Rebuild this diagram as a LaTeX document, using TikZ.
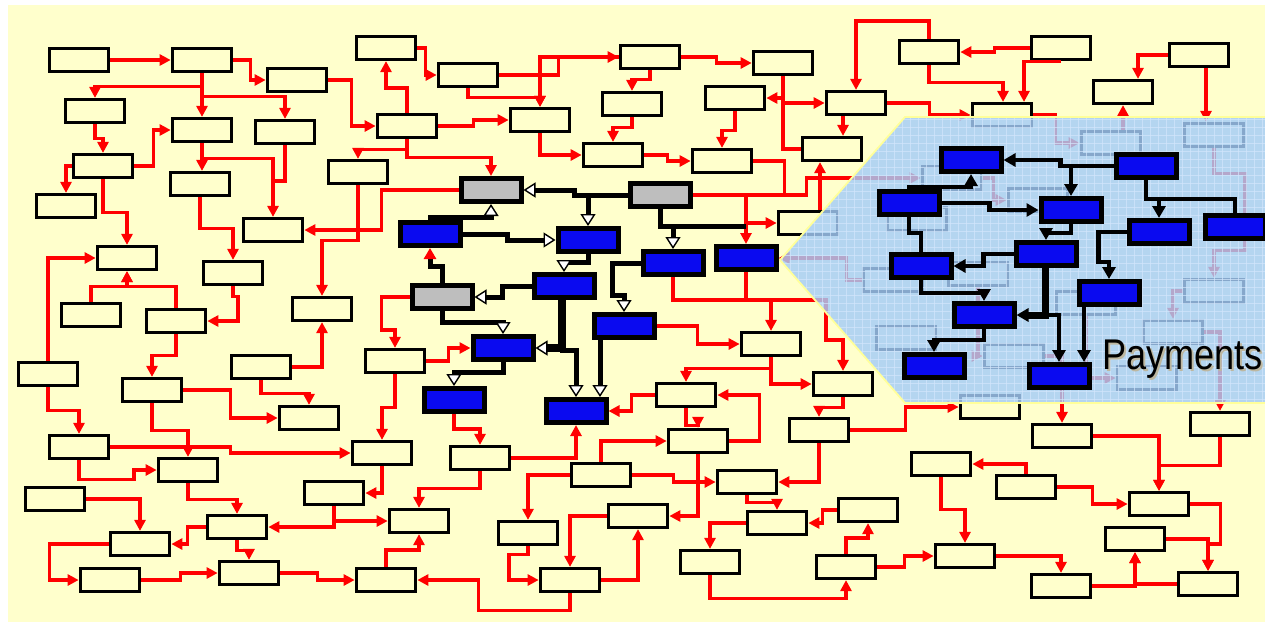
\documentclass[tikz,border=0pt]{standalone}
\usepackage{fontspec}
\usepackage{tikz}
\usetikzlibrary{arrows.meta,calc}
\newfontfamily\payfont{Liberation Sans}
\definecolor{Paper}{HTML}{FFFFCC}
\definecolor{Wire}{HTML}{FF0000}
\definecolor{Deep}{HTML}{0A0AF0}
\definecolor{Slate}{HTML}{BEBEBE}
\definecolor{Sky}{HTML}{A4CCF8}
\definecolor{Mesh}{HTML}{D2E6FC}
\definecolor{Rim}{HTML}{FFFF99}
\definecolor{Shade}{HTML}{BDB7A0}
\tikzset{
  flow/.style={draw=black,line width=3.2pt,fill=Paper,minimum width=59.5pt,minimum height=23pt,inner sep=0pt},
  deep/.style={draw=black,line width=5pt,fill=Deep,minimum width=60pt,minimum height=23pt,inner sep=0pt},
  slate/.style={deep,fill=Slate},
  wire/.style={draw=Wire,line width=3.2pt,-{Triangle[length=11pt,width=11pt]}},
  bare/.style={draw=Wire,line width=3.2pt},
  link/.style={draw=black,line width=5pt,-{Triangle[length=12pt,width=15pt,fill=white,line width=1.4pt]}},
  flat/.style={draw=black,line width=5pt},
  pay/.style={draw=black,line width=4.6pt,-{Triangle[length=12pt,width=13pt]}},
  payflat/.style={draw=black,line width=4.6pt},
}

\begin{document}
\begin{tikzpicture}[x=1pt,y=-1pt]
\useasboundingbox (0,0) rectangle (1265,622);
\fill[white] (0,0) rectangle (1265,622);
\fill[Paper] (8,5) rectangle (1265,622);

\foreach \n/\x/\y in {b1/79/60,b2/202/60,b3/297/80,b4/95/111,b5/202/130,b6/285/132,
  b7/386/48,b8/407/126,b9/103/166,b10/200/184,b11/66/206,b12/358/172,b13/273/230,
  b14/127/258,b15/233/273,b16/322/309,b17/91/315,b18/176/321,b19/48/374,b20/152/390,
  b21/261/367,b22/309/418,b23/395/361,b24/79/447,b25/188/470,b26/382/453,b27/55/499,
  b28/334/493,b29/237/527,b30/140/544,b31/419/521,b32/110/580,b33/249/573,b34/386/580,
  b35/468/75,b36/650/57,b37/783/63,b38/632/104,b39/735/98,b40/856/103,b41/540/120,
  b42/613/155,b43/722/161,b44/832/149,b45/929/52,b46/1061/48,b47/1199/55,b48/1123/92,
  b49/1002/115,b50/808/223,b51/843/384,b52/771/344,b54/686/395,b55/698/441,b56/819/430,
  b57/480/458,b58/601/475,b59/747/482,b61/638/516,b62/528/533,b63/777/523,b64/868/510,
  b65/710/562,b66/846/567,b67/570/580,b68/990/407,b69/1062/436,b70/1220/424,b71/941/464,
  b72/1026/487,b73/1159/504,b74/1135/539,b75/965/556,b76/1061/586,b77/1208/584,
  u1/1111/143,u2/1214/135,u3/952/178,u4/1038/200,u5/917/219,u6/893/280,u7/978/274,
  u8/906/338,u9/1014/356,u10/1086/303,u11/1214/291,u12/1173/332,u13/1147/378} {
  \node[flow] (\n) at (\x,\y) {};
}
\node[slate] (g1) at (491,190) {};
\node[slate] (g2) at (660,195) {};
\node[slate] (g3) at (442,297) {};
\foreach \n/\x/\y in {k1/430/234,k2/588/240,k3/673/263,k4/746/258,k5/564/286,k6/624/326,
  k7/503/348,k8/454/400,k9/576/411} {
  \node[deep] (\n) at (\x,\y) {};
}

\draw[wire] (b1.east) -- (b2.west);
\draw[wire] (b2.east) -- ++(17,0) |- (b3.west);
\draw[wire] (b2.south) -- (b5.north);
\draw[wire] (b2.south) -- ++(0,13) -| (b4.north);
\draw[wire] (b2.south) -- ++(0,23) -| (b6.north);
\draw[wire] (b3.east) -- ++(23,0) |- (b8.west);
\draw[wire] (b4.south) -- ++(0,14) -| (b9.north);
\draw[wire] (b9.east) -- ++(19,0) |- (b5.west);
\draw[wire] (b9.west) -| (b11.north);
\draw[wire] (b9.south) -- ++(0,33) -| (b14.north);
\draw[wire] (b5.south) -- (b5.south |- b10.north);
\draw[wire] (b5.south) -- ++(0,15) -| (b13.north);
\draw[bare] (b6.south) |- (b13.north |- 0,181);
\draw[wire] (b10.south) -- ++(0,31) -| (b15.north);
\draw[wire] (b8.north) -- ++(0,-25) -| (b7.south);
\draw[wire] (b8.south) -- ++(0,10) -| (b12.north);
\draw[wire] (b8.south) -- ++(0,18) -| (g1.north);
\draw[wire] (b12.south) -- ++(0,55) -| (b16.north);
\draw[wire] (b19.north) |- (b14.west);
\draw[wire] (b17.north) |- ($(b14.south)+(0,15)$) -- (b14.south);
\draw[wire] (b18.north) |- ($(b14.south)+(0,15)$) -- (b14.south);
\draw[wire] (b15.south) -- ++(0,10) -- ++(5,0) |- (b18.east);
\draw[wire] (b19.south) -- ++(0,23) -| (b24.north);
\draw[wire] (b18.south) -- ++(0,21) -| (b20.north);
\draw[wire] (b21.east) -| (b16.south);
\draw[wire] (b21.south) -- ++(0,13) -| (b22.north);
\draw[wire] (b20.east) -- ++(47,0) |- (b22.west);
\draw[wire] (b20.south) -- ++(0,27) -| (b25.north);
\draw[wire] (b24.east) -- ++(120,0) |- (b26.west);
\draw[wire] (b24.south) -- ++(0,19) -- ++(55,0) |- (b25.west);
\draw[wire] (b23.south) -- ++(0,33) -| (b26.north);
\draw[wire] (b26.south) |- (b28.east);
\draw[wire] (b27.east) -| (b30.north);
\draw[wire] (b25.south) -- ++(0,16) -| (b29.north);
\draw[wire] (b28.south) |- (b29.east);
\draw[wire] (b28.south) |- (b31.west);
\draw[wire] (b29.west) -- ++(-18,0) |- (b30.east);
\draw[wire] (b29.south) -- ++(0,10) -| (b33.north);
\draw[wire] (b30.west) -- ++(-59,0) |- (b32.west);
\draw[wire] (b32.east) -- ++(39,0) |- (b33.west);
\draw[wire] (b33.east) -- ++(37,0) |- (b34.west);
\draw[wire] (b34.north) -- ++(0,-17) -| (b31.south);
\draw[wire] (b67.south) -- ++(0,17) -| ($(b34.east)+(61,0)$) -- (b34.east);
\draw[wire] (b57.south) -- ++(0,17) -| (b31.north);
\draw[wire] (b58.north) |- (b55.west);
\draw[wire] (b58.east) -- ++(41,0) |- (b59.west);
\draw[wire] (b58.west) -| (b62.north);
\draw[wire] (b55.south) |- (b61.east);
\draw[wire] (b55.east) -- ++(30,0) |- (b54.east);
\draw[wire] (b54.south) -- ++(0,17) -| (b55.north);
\draw[wire] (b52.south) -- ++(0,11) -| (b54.north);
\draw[wire] (b52.south) |- (b51.west);
\draw[wire] (b51.south) -- ++(0,10) -| (b56.north);
\draw[wire] (b56.south) |- (b59.east);
\draw[wire] (b59.south) -- ++(0,7) -| (b63.north);
\draw[wire] (b64.west) -- ++(-14,0) |- (b63.east);
\draw[wire] (b63.west) -| (b65.north);
\draw[wire] (b65.south) -- ++(0,23) -| (b66.south);
\draw[wire] (b66.north) -- ++(0,-16) -| (b64.south);
\draw[wire] (b61.west) -| (b67.north);
\draw[wire] (b67.east) -| (b61.south);
\draw[wire] (b62.south) -- ++(0,8) -- ++(-19,0) |- (b67.west);
\draw[wire] (b66.east) -- ++(27,0) |- (b75.west);
\draw[wire] (b56.east) -- ++(55,0) |- (b68.west);
\draw[wire] (b69.east) -| (b73.north);
\draw[wire] (b70.south) -- ++(0,28) -| (b73.north);
\draw[wire] (b71.south) -- ++(0,32) -| (b75.north);
\draw[wire] (b72.north) |- (b71.east);
\draw[wire] (b72.east) -- ++(35,0) |- (b73.west);
\draw[wire] (b73.east) -- ++(30,0) -- ++(0,40) -| (b77.north);
\draw[wire] (b74.east) -| (b77.north);
\draw[wire] (b75.east) -| (b76.north);
\draw[wire] (b76.east) -| (b74.south);
\draw[wire] (b77.west) -| (b74.south);
\draw[wire] (b7.east) -- ++(8,0) |- (b35.west);
\draw[wire] (b35.east) -- ++(59,0) |- (b36.west);
\draw[wire] (b35.south) -- ++(0,9) -| (b41.north);
\draw[wire] (b36.west) -| (b41.north);
\draw[wire] (b8.east) -- ++(35,0) |- (b41.west);
\draw[wire] (b41.south) |- (b42.west);
\draw[wire] (b36.south) -- ++(0,9) -| (b38.north);
\draw[wire] (b36.east) -- ++(35,0) |- (b37.west);
\draw[wire] (b38.south) -- ++(0,10) -| (b42.north);
\draw[wire] (b42.east) -- ++(23,0) |- (b43.west);
\draw[wire] (b39.south) -- ++(0,19) -| (b43.north);
\draw[wire] (b37.south) |- (b39.east);
\draw[wire] (b37.south) |- (b40.west);
\draw[bare] (b37.south) |- (b44.west);
\draw[bare] (b43.east) -- ++(31,0) -- ++(0,34);
\draw[wire] ($(b40.south)+(-13,0)$) -- ($(b44.north)+(11,0)$);
\draw[wire] ($(b50.north)+(12,0)$) -- ($(b44.south)+(-12,0)$);
\draw[wire] (b45.north) -- ++(0,-18) -| (b40.north);
\draw[wire] (b46.west) -- ++(-35,0) |- (b45.east);
\draw[wire] (b45.south) -- ++(0,17) -| ($(b49.north)+(1,0)$);
\draw[wire] (b46.south) -| ($(b49.north)+(22,0)$);
\draw[wire] (b47.west) -| ($(b48.north)+(15,0)$);
\draw[wire] ($(b47.south)+(7,0)$) -- ($(u2.north)+(-8,0)$);
\draw[wire] ($(u1.north)+(12,0)$) -- (b48.south);
\draw[wire] (b40.east) -- ++(42,0) |- (b49.west);
\draw[wire] (b49.east) -- ++(22,0) |- (u1.west);
\draw[wire] (g2.east) -- ++(114,0) |- (u3.west);
\draw[wire] (g2.east -| k4.north) -- (k4.north);
\draw[wire] (k4.north |- b50.west) -- (b50.west);
\draw[wire] (k3.south) -- ++(0,23) -| (b52.north);
\draw[bare] (k4.south) -- ++(0,28);
\draw[wire] ($(k4.south)+(0,28)$) -- ++(80,0) -- ++(0,40) -| (b51.north);
\draw[wire] (k6.east) -- ++(41,0) |- (b52.west);
\draw[wire] (b23.east) -- ++(22,0) |- (k7.west);
\draw[wire] (g1.west) -- ++(-77,0) |- (b13.east);
\draw[wire] (g3.west) -- ++(-28,0) -- ++(0,33) -| (b23.north);
\draw[wire] (k8.south) -- ++(0,15) -| (b57.north);
\draw[wire] (b57.east) -| (k9.south);
\draw[wire] (b54.west) -- ++(-23,0) |- (k9.east);
\draw[wire] (u2.south) -- ++(0,25) -- ++(31,0) -- ++(0,77) -| (u11.north);
\draw[wire] (u6.west) -- ++(-15,0) |- (k4.east);
\draw[wire] (u3.east) -- ++(10,0) |- (u4.west);
\draw[wire] (u9.east) -| (b69.north);
\draw[wire] (u12.east) -| (b70.north);
\draw[wire] (u10.south) |- (u13.west);
\draw[wire] (u11.west) -| (u12.north);
\draw[wire] (u7.south) |- (u9.west);

\begin{scope}
  \clip (1270,117) -- (905,117) -- (780,260) -- (905,403) -- (1270,403) -- cycle;
  \fill[Sky,fill opacity=0.82] (770,110) rectangle (1270,410);
  \foreach \gx in {782,790,...,1266} \draw[Mesh,line width=0.7pt,opacity=0.7] (\gx,110) -- (\gx,410);
  \foreach \gy in {119,127,...,403} \draw[Mesh,line width=0.7pt,opacity=0.7] (770,\gy) -- (1270,\gy);
\end{scope}
\draw[Rim,line width=1.8pt] (1270,117) -- (905,117) -- (780,260) -- (905,403) -- (1270,403);

\coordinate (k5tap) at ($(k5.south)+(-2,0)$);
\coordinate (k6tap) at ($(k6.south)+(-24,0)$);
\draw[link] (g2.west) -- ++(-53,0) |- (g1.east);
\draw[link] (g2.west) -| (k2.north);
\draw[flat] (g2.south) |- ($(k4.north)+(0,-18)$);
\draw[link] (g2.south) -- ++(0,17) -| (k3.north);
\draw[link] (k1.north) -- ++(0,-3) -| (g1.south);
\draw[link] (k1.east) -- ++(45,0) |- (k2.west);
\draw[link] (k2.south) -- ++(0,8) -| (k5.north);
\draw[link] (k5.west) -- ++(-29,0) |- (g3.east);
\draw[flat,-{Triangle[length=11pt,width=12pt,color=Wire]}] (g3.north) -- ++(0,-17) -| (k1.south);
\draw[link] (g3.south) -- ++(0,11) -| (k7.north);
\draw[link,line width=8pt] (k5tap) |- (k7.east);
\draw[link] (k5tap) -- ++(0,50) -| (k9.north);
\draw[link] (k3.west) -- ++(-28,0) -- ++(0,32) -| (k6.north);
\draw[link] (k6tap) -- (k6tap |- k9.north);
\draw[link] (k7.south) -- ++(0,10) -| (k8.north);

\foreach \n/\x/\y in {p1/909/203,p2/971/160,p3/1146/166,p4/1071/210,p5/1159/232,p6/1235/227,
  p7/1046/254,p8/921/266,p9/1109/293,p10/984/315,p11/934/366,p12/1059/376} {
  \node[deep] (\n) at (\x,\y) {};
}
\coordinate (p7tap) at ($(p7.south)+(-1,0)$);
\coordinate (p9tap) at ($(p9.south)+(-25,0)$);
\draw[pay] (p3.west) -- ++(-53,0) |- (p2.east);
\draw[pay] (p3.west) -| (p4.north);
\draw[pay] (p3.south) -- ++(0,19) -| (p5.north);
\draw[payflat] (p6.north) |- ($(p3.south)+(0,19)$);
\draw[pay] (p1.north) -- ++(0,-2) -| (p2.south);
\draw[pay] (p1.east) -- ++(48,0) |- (p4.west);
\draw[pay] (p4.south) -- ++(0,9) -| (p7.north);
\draw[payflat] (p1.south) -- ++(0,16) -| (p8.north);
\draw[pay] (p7.west) -- ++(-30,0) |- (p8.east);
\draw[pay] (p8.south) -- ++(0,13) -| (p10.north);
\draw[pay,line width=7pt] (p7tap) |- (p10.east);
\draw[pay] (p7tap) -- ++(0,47) -| (p12.north);
\draw[pay] (p5.west) -- ++(-28,0) -- ++(0,30) -| (p9.north);
\draw[pay] (p9tap) -- (p9tap |- p12.north);
\draw[pay] (p10.south) -- ++(0,11) -| (p11.north);

\node[anchor=base west,inner sep=0pt,text=Shade,font=\payfont\fontsize{43}{43}\selectfont] (payshadow) at (1104,371) {\scalebox{0.84}[1]{Payments}};
\node[anchor=base west,inner sep=0pt,font=\payfont\fontsize{43}{43}\selectfont] (paylabel) at (1102,369) {\scalebox{0.84}[1]{Payments}};
\end{tikzpicture}
\end{document}
